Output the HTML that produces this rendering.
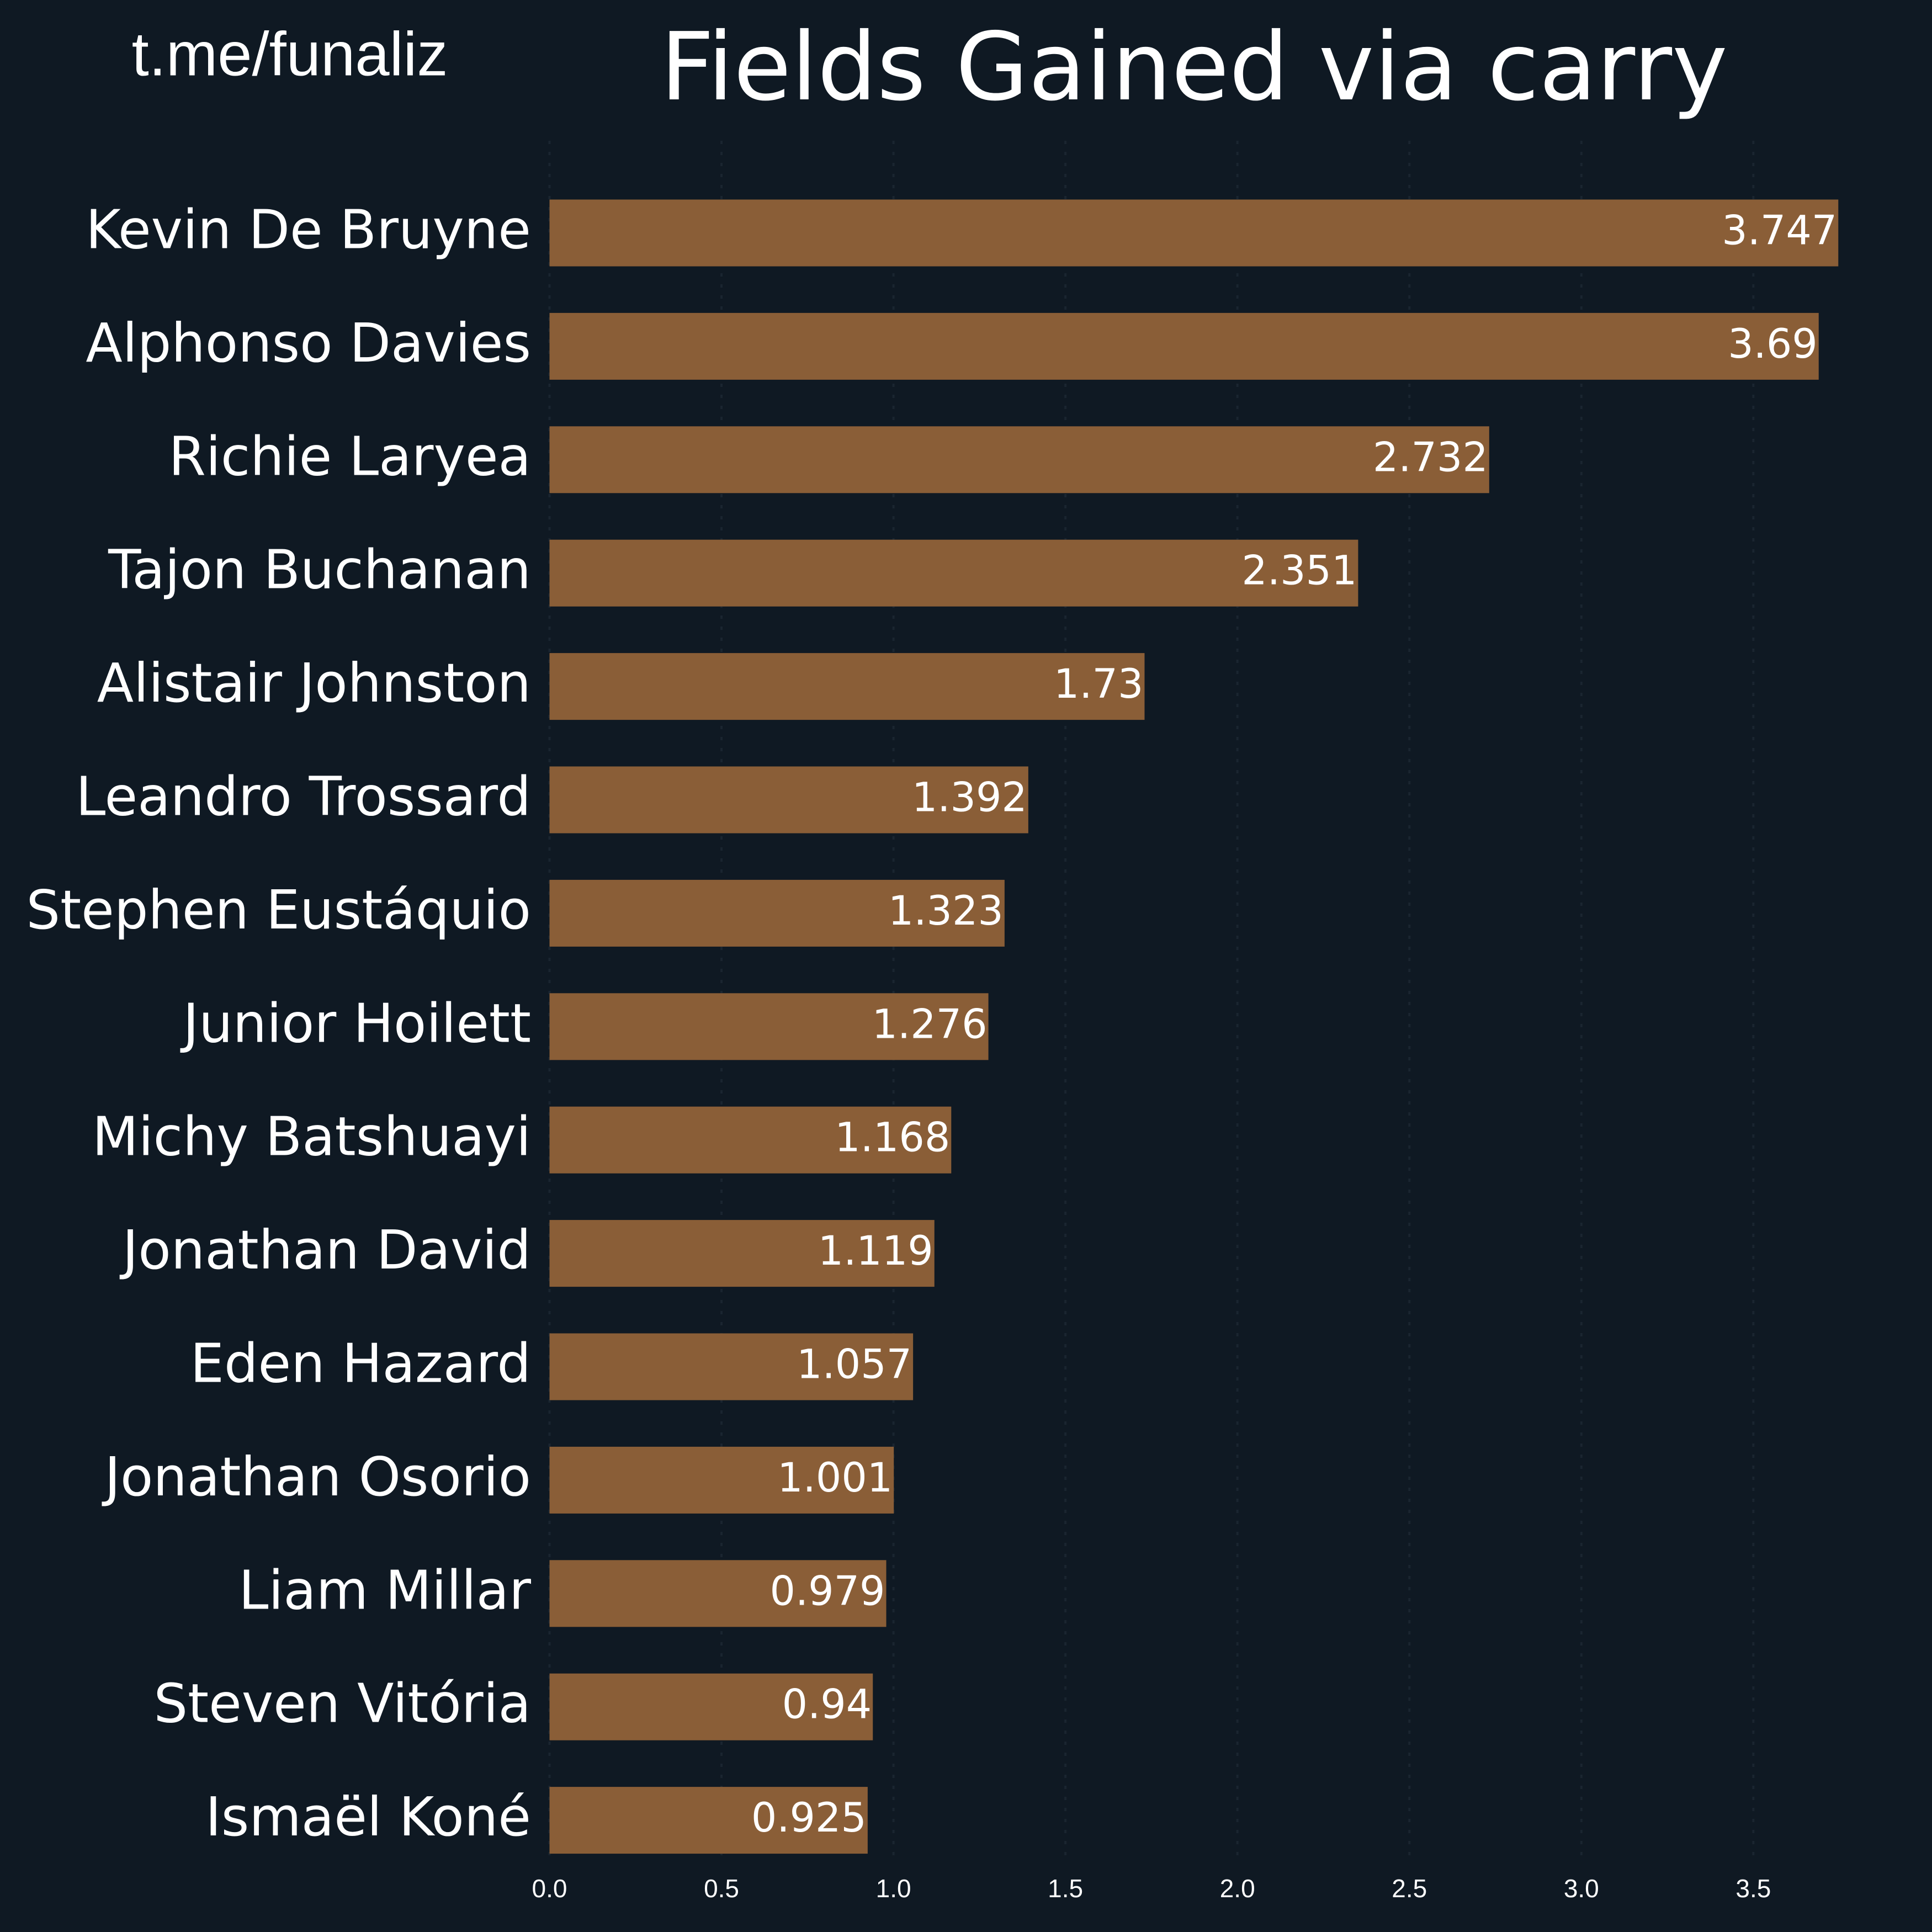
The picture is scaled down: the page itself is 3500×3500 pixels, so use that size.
<!DOCTYPE html>
<html><head><meta charset="utf-8"><style>
html,body{margin:0;padding:0;background:#0f1923;}
svg{display:block}
</style></head><body>
<svg id="chart" width="3500" height="3500" xmlns="http://www.w3.org/2000/svg">
<rect x="0" y="0" width="3500" height="3500" fill="#0f1923"/>
<text x="525" y="98" dominant-baseline="central" text-anchor="middle" fill="#ffffff" font-family="Liberation Sans, sans-serif" font-size="112">t.me/funaliz</text>
<text x="2163" y="122" dominant-baseline="central" text-anchor="middle" fill="#ffffff" font-family="DejaVu Sans, sans-serif" font-size="170">Fields Gained via carry</text>
<g id="grid"></g><g id="bars"></g><g id="labels"></g><g id="ticks"></g>
</svg>
<script>
const players = ["Kevin De Bruyne","Alphonso Davies","Richie Laryea","Tajon Buchanan","Alistair Johnston","Leandro Trossard","Stephen Eustáquio","Junior Hoilett","Michy Batshuayi","Jonathan David","Eden Hazard","Jonathan Osorio","Liam Millar","Steven Vitória","Ismaël Koné"];
const values = [3.747,3.69,2.732,2.351,1.73,1.392,1.323,1.276,1.168,1.119,1.057,1.001,0.979,0.94,0.925];
const valueLabels = ["3.747","3.69","2.732","2.351","1.73","1.392","1.323","1.276","1.168","1.119","1.057","1.001","0.979","0.94","0.925"];
const ticks = [0,0.5,1.0,1.5,2.0,2.5,3.0,3.5];
const tickLabels = ["0.0","0.5","1.0","1.5","2.0","2.5","3.0","3.5"];

const NS="http://www.w3.org/2000/svg";
const x0=995.5, pxPerUnit=623.1;
function xs(v){return x0+v*pxPerUnit;}
const yTop=361.5, step=205.4, barH=121;
function ys(i){return yTop+i*step;}
function mk(tag,attrs,parent){const e=document.createElementNS(NS,tag);for(const k in attrs)e.setAttribute(k,attrs[k]);parent.appendChild(e);return e;}
const grid=document.getElementById('grid'),bars=document.getElementById('bars'),labels=document.getElementById('labels'),tk=document.getElementById('ticks');
ticks.forEach((t,i)=>{
  const l=mk('line',{x1:xs(t),x2:xs(t),y1:255,y2:3370,stroke:'#1a2530','stroke-width':4,'stroke-dasharray':'6,14'},grid);
  
  
  const tx=mk('text',{x:xs(t),y:3421,'dominant-baseline':'central','text-anchor':'middle',fill:'#ffffff','font-family':'Liberation Sans, sans-serif','font-size':46},tk);
  tx.textContent=tickLabels[i];
  
  
});
players.forEach((p,i)=>{
  const r=mk('rect',{x:x0,y:ys(i),width:xs(values[i])-x0,height:barH,fill:'#8a5e37'},bars);
  
  
  const v=mk('text',{x:xs(values[i])-2,y:ys(i)+barH/2-4,'dominant-baseline':'central','text-anchor':'end',fill:'#ffffff','font-family':'DejaVu Sans, sans-serif','font-size':73},labels);
  v.textContent=valueLabels[i];
  
  
  const n=mk('text',{x:962,y:ys(i)+barH/2-6,'dominant-baseline':'central','text-anchor':'end',fill:'#ffffff','font-family':'DejaVu Sans, sans-serif','font-size':97},labels);
  n.textContent=p;
  
  
});
</script>
</body></html>
